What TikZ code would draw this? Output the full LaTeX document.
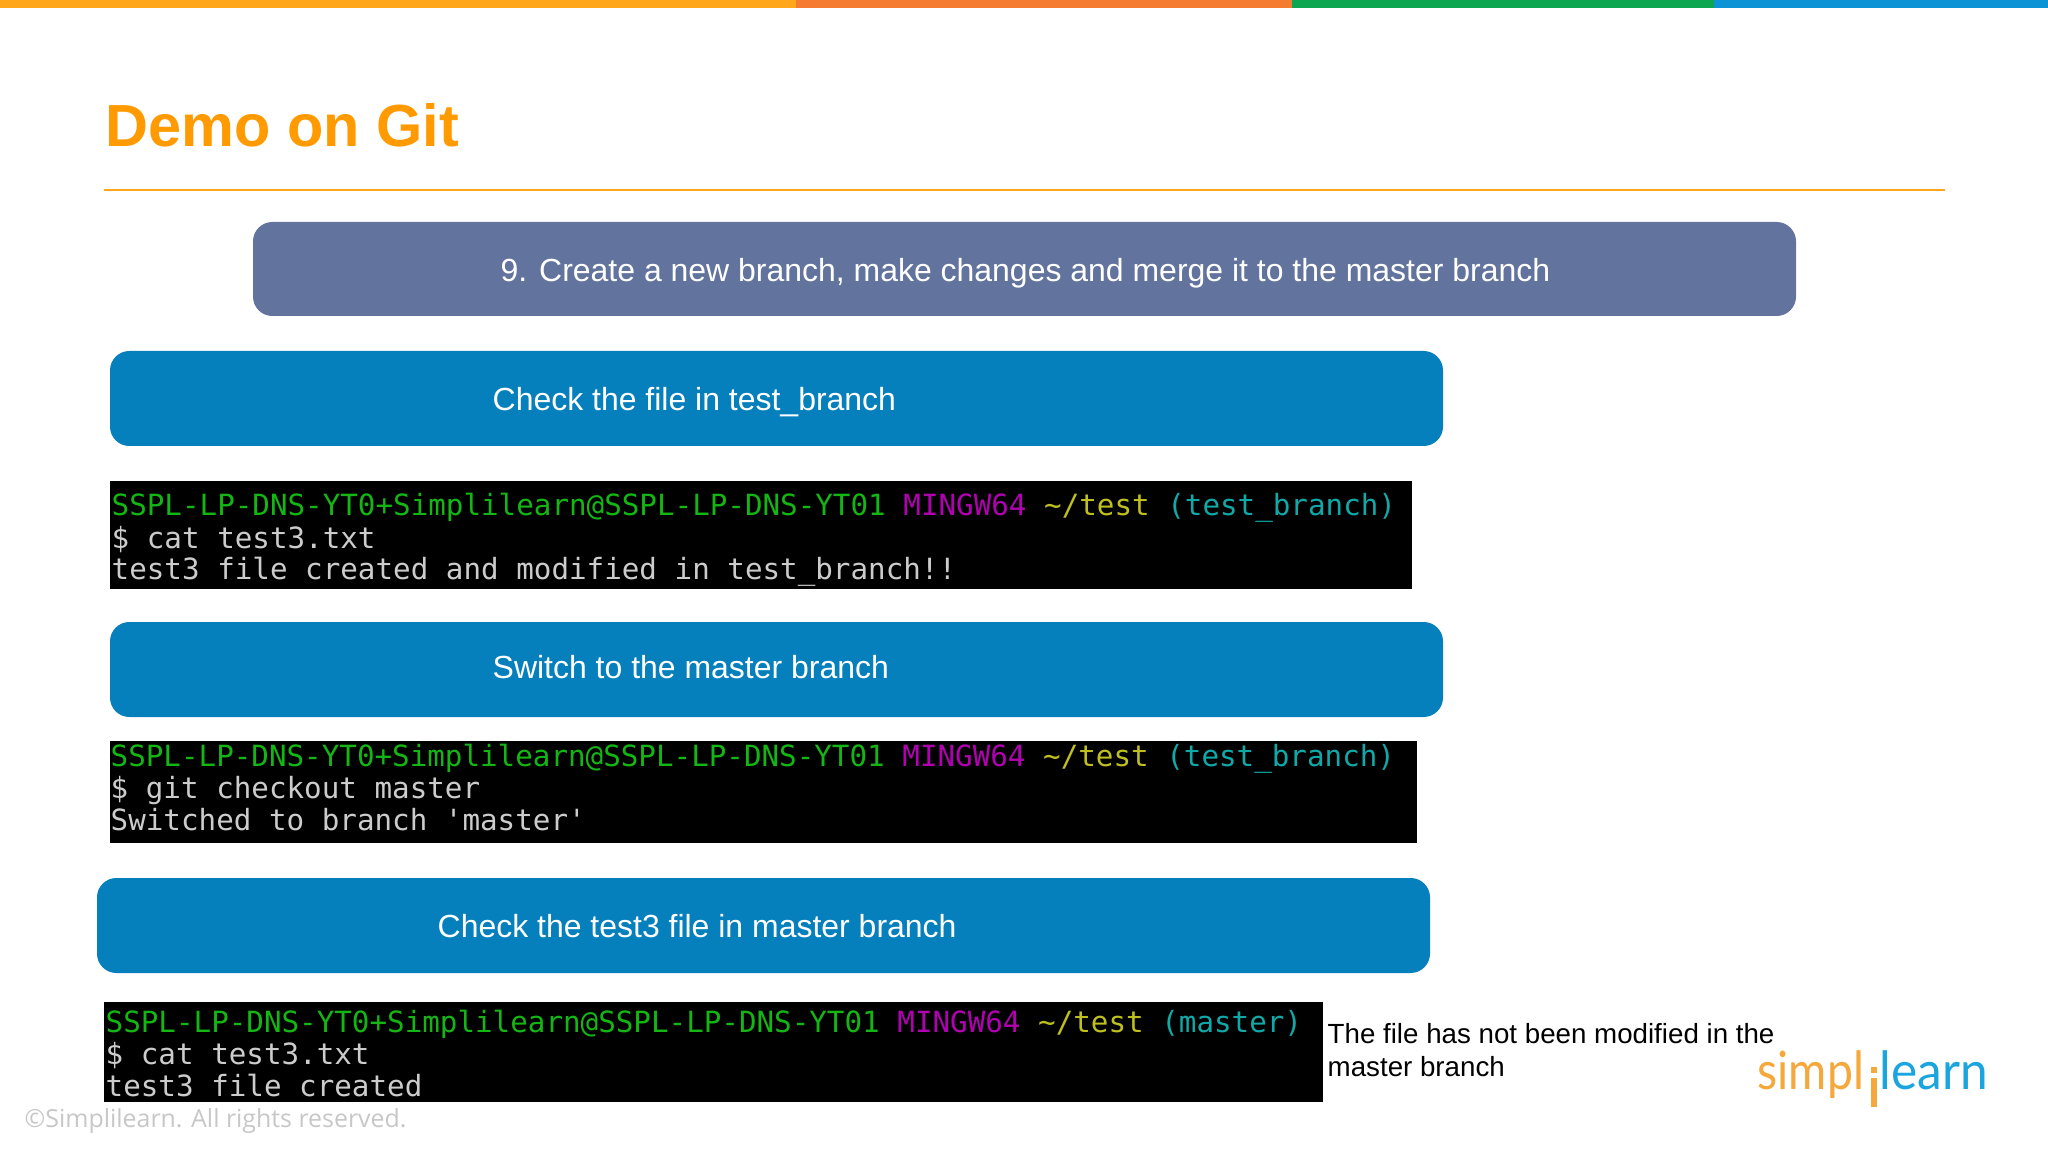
\documentclass[tikz,border=0pt]{standalone}
\usepackage{fontspec}
\setmainfont{Liberation Sans}
\newfontfamily\termfont{DejaVu Sans Mono}
\newfontfamily\footfont{Open Sans}
\newfontfamily\logofont{Lato}
\definecolor{barorange}{HTML}{FFA61A}
\definecolor{barred}{HTML}{F47B30}
\definecolor{bargreen}{HTML}{0CA650}
\definecolor{barblue}{HTML}{0B93D5}
\definecolor{titleorange}{HTML}{FF9A00}
\definecolor{headblue}{HTML}{62749E}
\definecolor{stepblue}{HTML}{0580BC}
\definecolor{termgreen}{HTML}{13B613}
\definecolor{termpink}{HTML}{B000B0}
\definecolor{termyellow}{HTML}{BFBF20}
\definecolor{termcyan}{HTML}{11A8A8}
\definecolor{termgray}{HTML}{CCCCCC}
\definecolor{logoorange}{HTML}{F5A83C}
\definecolor{logoblue}{HTML}{1AA5DE}
\tikzset{
	steptext/.style={anchor=base west,inner sep=0pt,text=white,font=\fontsize{9.09}{11}\selectfont},
	termtext/.style={anchor=base west,inner sep=0pt,text=termgray,font=\termfont\fontsize{8.31}{10}\selectfont},
	stepbox/.style={fill=stepblue,rounded corners=5.5pt},
	logotext/.style={anchor=base west,inner sep=0pt,transform shape,font=\logofont\fontsize{15}{18}\selectfont},
}
\newcommand{\promptline}[1]{\textcolor{termgreen}{SSPL-LP-DNS-YT0+Simplilearn@SSPL-LP-DNS-YT01} \textcolor{termpink}{MINGW64} \textcolor{termyellow}{\string~/test} \textcolor{termcyan}{(#1)}}
\begin{document}
\begin{tikzpicture}[x=0.01cm,y=-0.01cm]
	\useasboundingbox (0,0) rectangle (2048,1152);
	% colour bar
	\fill[barorange] (0,0) rectangle (796,8);
	\fill[barred] (796,0) rectangle (1292,8);
	\fill[bargreen] (1292,0) rectangle (1714,8);
	\fill[barblue] (1714,0) rectangle (2048,8);
	% title
	\node (title) at (105,147) [anchor=base west,inner sep=0pt,text=titleorange,font=\bfseries\fontsize{16.9}{20}\selectfont] {Demo on Git};
	\draw[barorange,line width=0.5pt] (104,190) -- (1945,190);
	% header
	\fill[headblue,rounded corners=5.5pt] (253,222) rectangle (1796,316);
	\node (head) at (500,282) [steptext] {9. Create a new branch, make changes and merge it to the master branch};
	% first step
	\fill[stepbox] (110,351) rectangle (1443,446);
	\node (checkfile) at (492,411) [steptext] {Check the file in test\_branch};
	\fill (110,481) rectangle (1412,589);
	\node (promptA) at (111,515) [termtext] {\promptline{test\_branch}};
	\node (cmdA) at (111,548) [termtext] {\$ cat test3.txt};
	\node (outA) at (111,580) [termtext] {test3 file created and modified in test\_branch!!};
	% second step
	\fill[stepbox] (110,622) rectangle (1443,717);
	\node (switch) at (492,678) [steptext] {Switch to the master branch};
	\fill (110,741) rectangle (1417,843);
	\node (promptB) at (110,766) [termtext] {\promptline{test\_branch}};
	\node (cmdB) at (110,798) [termtext] {\$ git checkout master};
	\node (outB) at (110,830) [termtext] {Switched to branch 'master'};
	% third step
	\fill[stepbox] (97,878) rectangle (1430,973);
	\node (checkmaster) at (437,937) [steptext] {Check the test3 file in master branch};
	\fill (104,1002) rectangle (1323,1102);
	\node (promptC) at (105,1032) [termtext] {\promptline{master}};
	\node (cmdC) at (105,1064) [termtext] {\$ cat test3.txt};
	\node (outC) at (105,1096) [termtext] {test3 file created};
	% note
	\node (noteA) at (1327,1043) [anchor=base west,inner sep=0pt,font=\fontsize{7.88}{10}\selectfont] {The file has not been modified in the};
	\node (noteB) at (1327,1076) [anchor=base west,inner sep=0pt,font=\fontsize{7.88}{10}\selectfont] {master branch};
	% footer and logo
	\node (copy) at (24,1127) [anchor=base west,inner sep=0pt,text=black!22,font=\footfont\fontsize{7.08}{9}\selectfont] {©Simplilearn. All rights reserved.};
	\node (simpl) at (1757,1089) [logotext,xscale=0.88,text=logoorange] {simpl};
	\node (learn) at (1879,1089) [logotext,xscale=0.94,text=logoblue] {learn};
	\fill[logoorange] (1871,1078) rectangle (1877,1107);
	\fill[logoorange] (1871,1067) rectangle (1877,1073);
\end{tikzpicture}
\end{document}
